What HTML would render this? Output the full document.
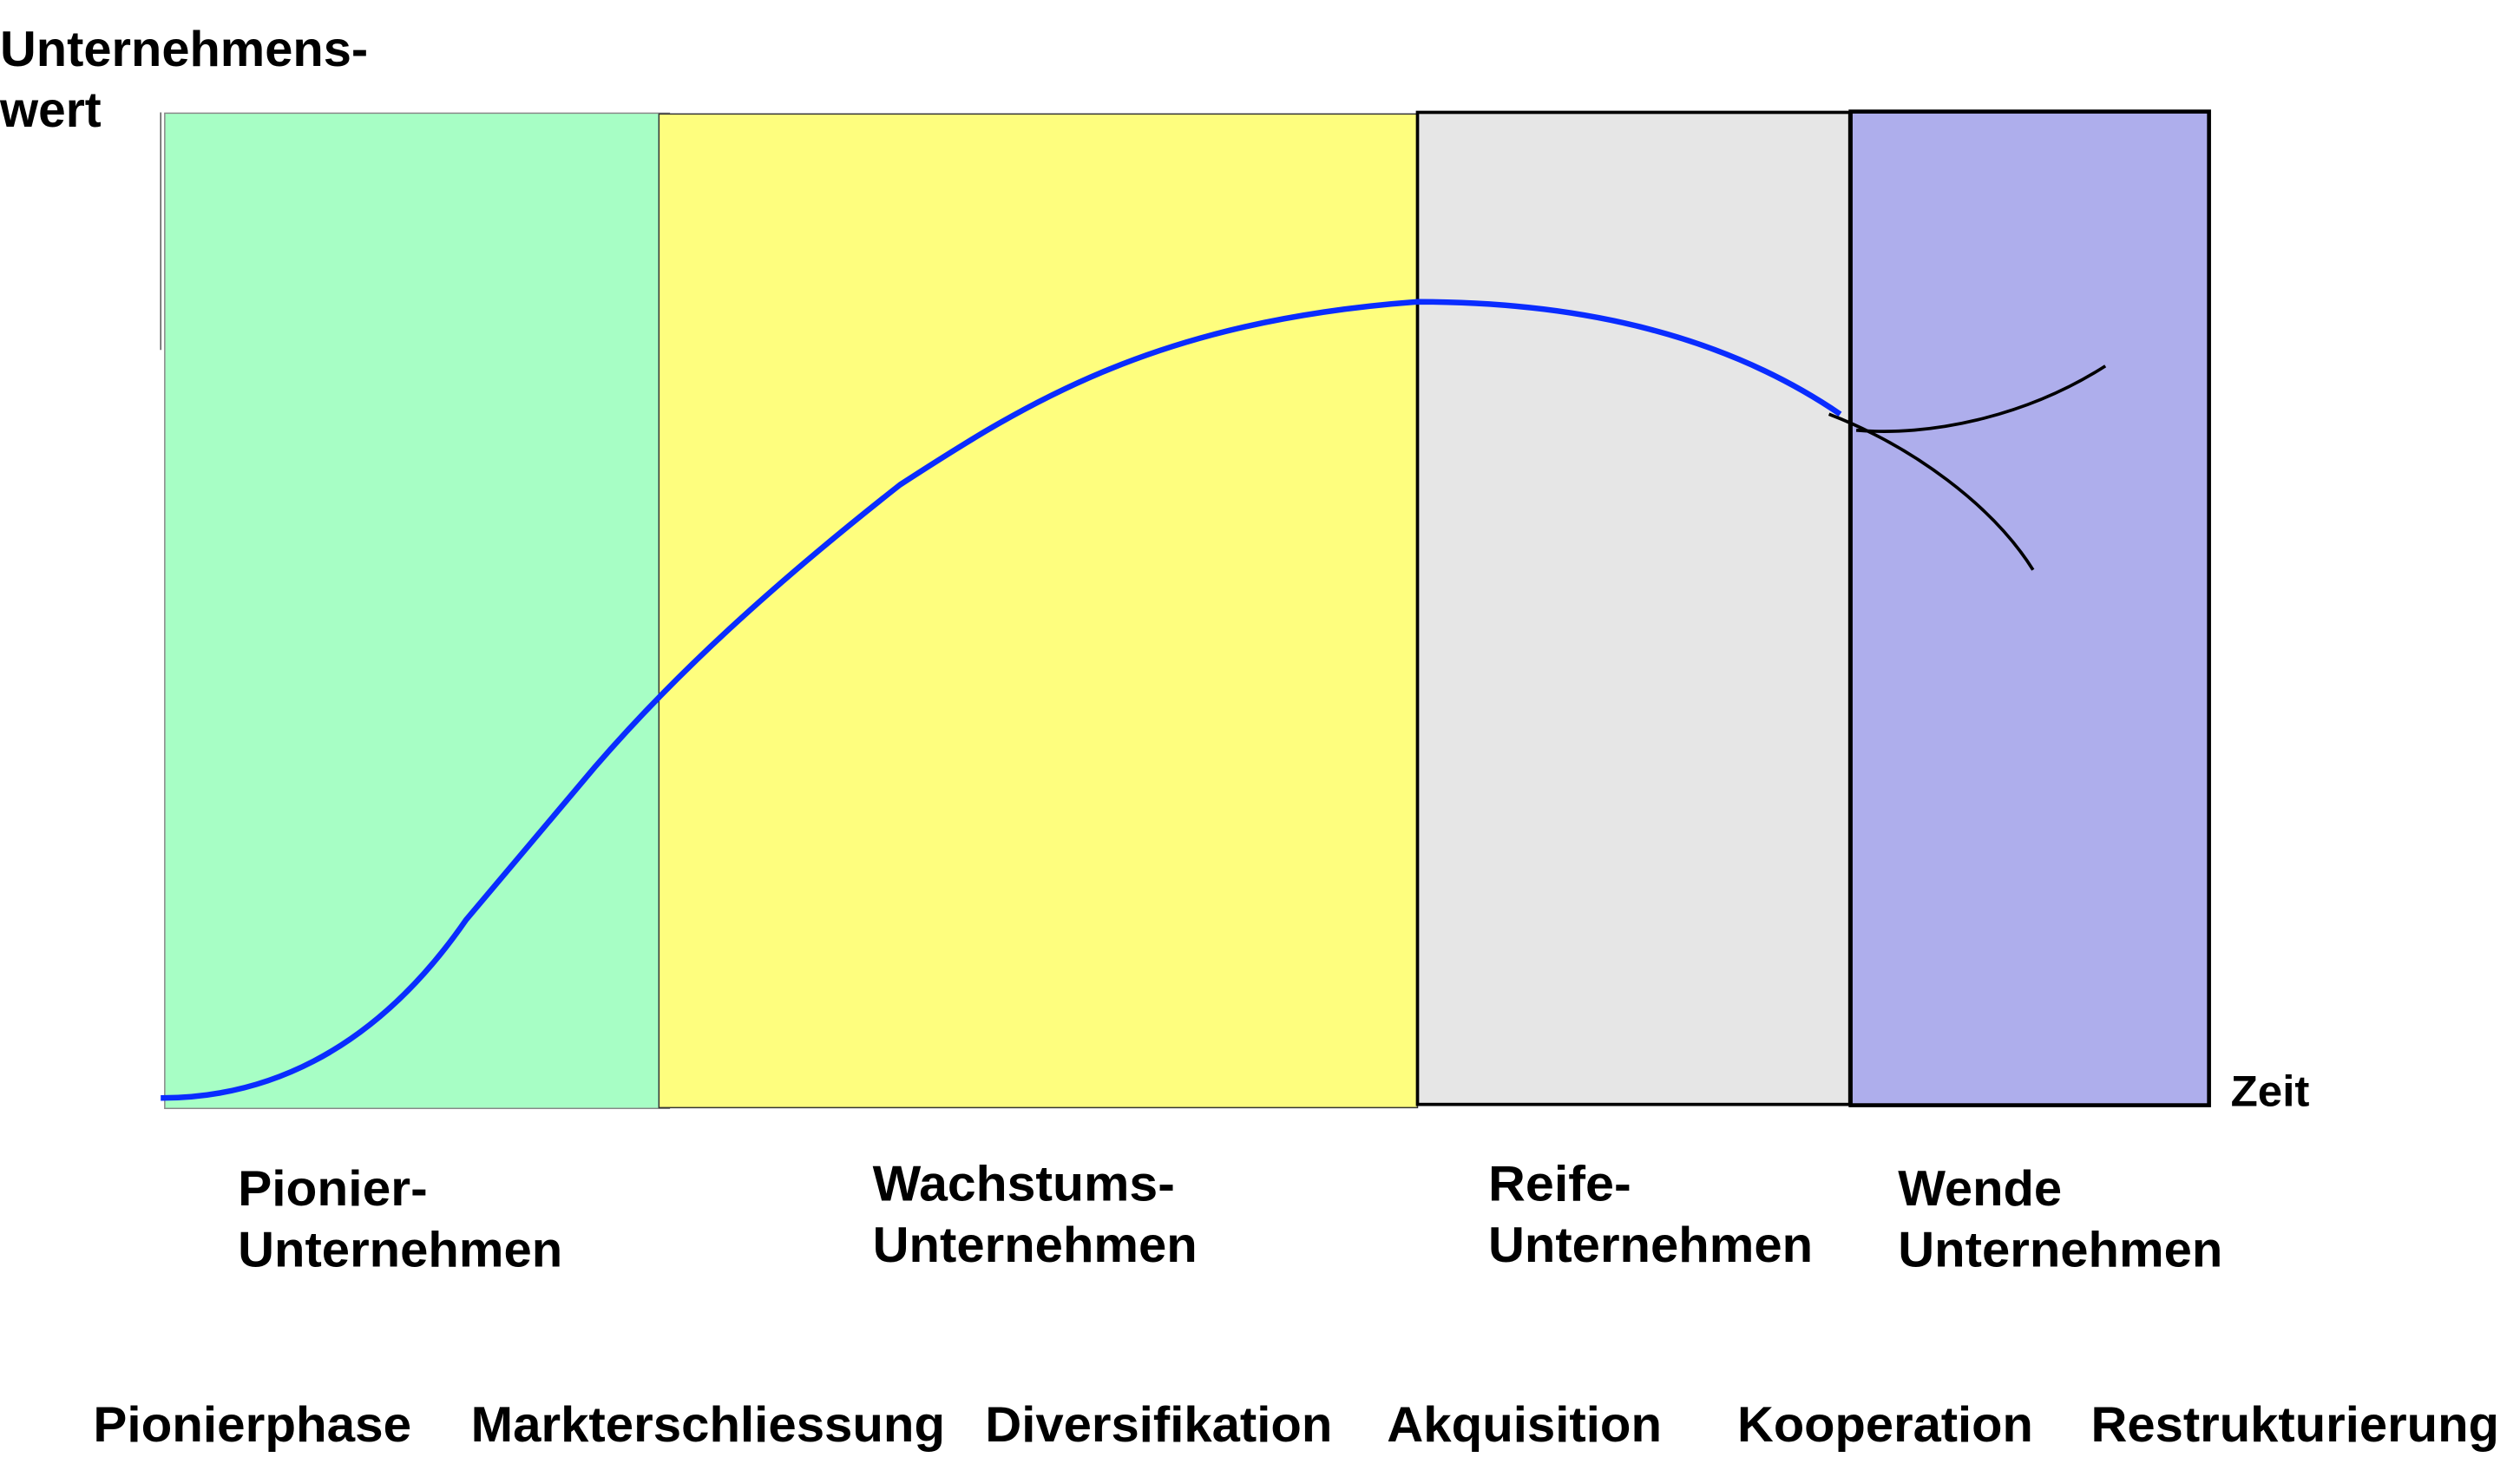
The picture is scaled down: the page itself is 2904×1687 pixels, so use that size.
<!DOCTYPE html>
<html><head><meta charset="utf-8"><style>html,body{margin:0;padding:0;background:#fff}svg{display:block}</style></head>
<body>
<svg width="2904" height="1687" viewBox="0 0 1568 912" preserveAspectRatio="none" xmlns="http://www.w3.org/2000/svg" font-family="'Liberation Sans', sans-serif" font-weight="bold" fill="#000">
<rect x="0" y="0" width="1568" height="912" fill="#fff"/>
<line x1="100" y1="70" x2="100" y2="218" stroke="#555" stroke-width="0.8"/>
<rect x="102.5" y="70.5" width="314" height="620" fill="#a7fec5" stroke="#888" stroke-width="0.8"/>
<rect x="410" y="71" width="472" height="619" fill="#fefe7e" stroke="#333" stroke-width="0.8"/>
<rect x="882" y="70" width="269" height="618" fill="#e6e6e6" stroke="#000" stroke-width="2"/>
<rect x="1151.5" y="69.5" width="223" height="619" fill="#aeaeec" stroke="#000" stroke-width="2.5"/>
<path d="M100,684 C160,684 230,660 290,573 L370,478 C420,420 480,365 560,302 C640,250 720,200 882,188 C960,188 1060,200 1145,258" fill="none" stroke="#0a2cff" stroke-width="3.5"/>
<path d="M1138,258 C1190,278 1240,315 1265,355" fill="none" stroke="#000" stroke-width="2"/>
<path d="M1155,268 C1200,272 1260,260 1310,228" fill="none" stroke="#000" stroke-width="2"/>
<g font-size="31">
<text x="0" y="41" textLength="229" lengthAdjust="spacingAndGlyphs">Unternehmens-</text>
<text x="0" y="79" textLength="63" lengthAdjust="spacingAndGlyphs">wert</text>
<text x="1388" y="689" font-size="27" textLength="49" lengthAdjust="spacingAndGlyphs">Zeit</text>
<text x="148" y="751" textLength="118" lengthAdjust="spacingAndGlyphs">Pionier-</text>
<text x="148" y="789" textLength="202" lengthAdjust="spacingAndGlyphs">Unternehmen</text>
<text x="543" y="748" textLength="188" lengthAdjust="spacingAndGlyphs">Wachstums-</text>
<text x="543" y="786" textLength="202" lengthAdjust="spacingAndGlyphs">Unternehmen</text>
<text x="926" y="748" textLength="89" lengthAdjust="spacingAndGlyphs">Reife-</text>
<text x="926" y="786" textLength="202" lengthAdjust="spacingAndGlyphs">Unternehmen</text>
<text x="1181" y="751" textLength="102" lengthAdjust="spacingAndGlyphs">Wende</text>
<text x="1181" y="789" textLength="202" lengthAdjust="spacingAndGlyphs">Unternehmen</text>
<text x="58" y="898" textLength="198" lengthAdjust="spacingAndGlyphs">Pionierphase</text>
<text x="293" y="898" textLength="295" lengthAdjust="spacingAndGlyphs">Markterschliessung</text>
<text x="613" y="898" textLength="216" lengthAdjust="spacingAndGlyphs">Diversifikation</text>
<text x="863" y="898" textLength="171" lengthAdjust="spacingAndGlyphs">Akquisition</text>
<text x="1081" y="898" textLength="184" lengthAdjust="spacingAndGlyphs">Kooperation</text>
<text x="1301" y="898" textLength="254" lengthAdjust="spacingAndGlyphs">Restrukturierung</text>
</g>
</svg>
</body></html>
